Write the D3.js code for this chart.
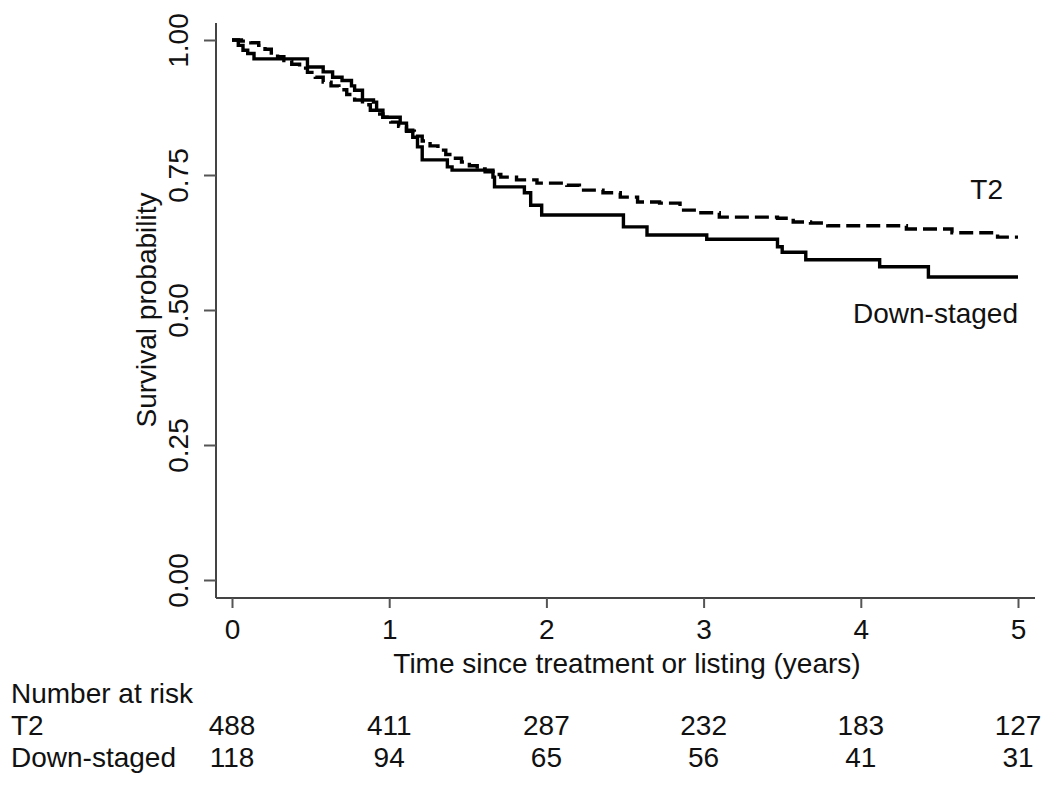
<!DOCTYPE html>
<html>
<head>
<meta charset="utf-8">
<script src="https://cdn.jsdelivr.net/npm/d3@7"></script>
<style>
  body { margin: 0; background: #fff; }
  svg text { font-family: "Liberation Sans", Arial, sans-serif; fill: #111; }
</style>
</head>
<body>
<svg id="chart" width="1050" height="785"></svg>
<script>
// Kaplan-Meier estimates (time in years, survival)
const t2Times = [0, 0.06, 0.12, 0.17, 0.21, 0.25, 0.29, 0.33, 0.38, 0.43, 0.48, 0.53, 0.58, 0.63, 0.68, 0.73, 0.78, 0.83, 0.88, 0.92, 0.96, 1.01, 1.06, 1.11, 1.16, 1.21, 1.26, 1.31, 1.36, 1.41, 1.46, 1.51, 1.56, 1.61, 1.66, 1.71, 1.81, 1.94, 2.13, 2.21, 2.36, 2.47, 2.58, 2.72, 2.85, 2.96, 3.10, 3.47, 3.57, 3.68, 3.79, 4.29, 4.58, 4.87, 5.0];
const t2Surv = [1.0, .998, .995, .990, .983, .976, .969, .962, .955, .948, .940, .931, .922, .915, .908, .899, .889, .880, .870, .863, .857, .848, .840, .831, .822, .813, .804, .796, .788, .781, .774, .767, .761, .756, .751, .746, .741, .735, .731, .722, .717, .709, .700, .698, .685, .680, .672, .670, .663, .661, .656, .650, .643, .635, .635];

const dsTimes = [0, 0.04, 0.07, 0.10, 0.14, 0.48, 0.58, 0.64, 0.70, 0.76, 0.78, 0.83, 0.90, 0.92, 0.96, 1.07, 1.11, 1.15, 1.18, 1.21, 1.37, 1.40, 1.66, 1.67, 1.86, 1.90, 1.97, 2.49, 2.64, 3.02, 3.47, 3.50, 3.65, 4.12, 4.43, 5.0];
const dsSurv = [1.0, .99, .981, .975, .965, .950, .941, .931, .925, .915, .907, .889, .885, .870, .857, .846, .833, .820, .802, .778, .765, .759, .746, .728, .717, .694, .676, .654, .639, .631, .617, .607, .593, .580, .561, .561];

const yTicks = [0, 0.25, 0.5, 0.75, 1];
const xTicks = [0, 1, 2, 3, 4, 5];

const riskGroups = ["T2", "Down-staged"];
const riskT2 = [488, 411, 287, 232, 183, 127];
const riskDS = [118, 94, 65, 56, 41, 31];

const svg = d3.select("#chart");
const fs = 28;

const x = d3.scaleLinear().domain([0, 5]).range([232, 1018]);
const y = d3.scaleLinear().domain([0, 1]).range([580, 40]);

const axisX = x(0) - 16;   // y axis line position
const axisY = y(0) + 18;   // x axis line position

// axis lines
svg.append("line")
  .attr("x1", axisX).attr("x2", axisX)
  .attr("y1", y(1) - 17).attr("y2", axisY)
  .attr("stroke", "#444").attr("stroke-width", 2);
svg.append("line")
  .attr("x1", axisX).attr("x2", x(5) + 17)
  .attr("y1", axisY).attr("y2", axisY)
  .attr("stroke", "#444").attr("stroke-width", 2);

// y axis
const yAxis = d3.axisLeft(y).tickValues(yTicks).tickFormat(d3.format(".2f")).tickSize(12);
const gy = svg.append("g").attr("transform", `translate(${axisX},0)`).call(yAxis);
gy.select(".domain").remove();
gy.selectAll(".tick line").attr("stroke", "#555").attr("stroke-width", 2);
gy.selectAll(".tick text")
  .attr("transform", "rotate(-90)")
  .attr("x", 0).attr("y", -28).attr("dy", 0)
  .attr("text-anchor", "middle")
  .style("font-size", fs + "px");

// x axis
const xAxis = d3.axisBottom(x).tickValues(xTicks).tickFormat(d3.format("d")).tickSize(10).tickPadding(11);
const gx = svg.append("g").attr("transform", `translate(0,${axisY})`).call(xAxis);
gx.select(".domain").remove();
gx.selectAll(".tick line").attr("stroke", "#555").attr("stroke-width", 2);
gx.selectAll(".tick text").style("font-size", fs + "px");

// axis titles
svg.append("text")
  .attr("transform", `translate(156,${(y(0) + y(1)) / 2}) rotate(-90)`)
  .attr("text-anchor", "middle")
  .style("font-size", fs + "px")
  .text("Survival probability");
svg.append("text")
  .attr("x", (x(0) + x(5)) / 2 + 2).attr("y", 673)
  .attr("text-anchor", "middle")
  .style("font-size", fs + "px")
  .text("Time since treatment or listing (years)");

// curves
const line = d3.line()
  .x(d => x(d[0]))
  .y(d => y(d[1]))
  .curve(d3.curveStepAfter);

const t2Data = t2Times.map((t, i) => [t, t2Surv[i]]);
const dsData = dsTimes.map((t, i) => [t, dsSurv[i]]);

svg.append("path")
  .datum(t2Data)
  .attr("d", line)
  .attr("fill", "none")
  .attr("stroke", "#000")
  .attr("stroke-width", 3.4)
  .attr("stroke-dasharray", "14,6");

svg.append("path")
  .datum(dsData)
  .attr("d", line)
  .attr("fill", "none")
  .attr("stroke", "#000")
  .attr("stroke-width", 3.4);

// curve labels
svg.append("text")
  .attr("x", 1003).attr("y", 199)
  .attr("text-anchor", "end")
  .style("font-size", fs + "px")
  .text("T2");
svg.append("text")
  .attr("x", 1018).attr("y", 323)
  .attr("text-anchor", "end")
  .style("font-size", fs + "px")
  .text("Down-staged");

// number at risk table
svg.append("text")
  .attr("x", 11).attr("y", 703)
  .style("font-size", fs + "px")
  .text("Number at risk");

const rows = [riskT2, riskDS];
const rowY = [735, 767];
rows.forEach((vals, r) => {
  svg.append("text")
    .attr("x", 11).attr("y", rowY[r])
    .style("font-size", fs + "px")
    .text(riskGroups[r]);
  svg.selectAll(null)
    .data(vals)
    .enter()
    .append("text")
    .attr("x", (d, i) => x(xTicks[i]))
    .attr("y", rowY[r])
    .attr("text-anchor", "middle")
    .style("font-size", fs + "px")
    .text(d => d);
});
</script>
</body>
</html>
